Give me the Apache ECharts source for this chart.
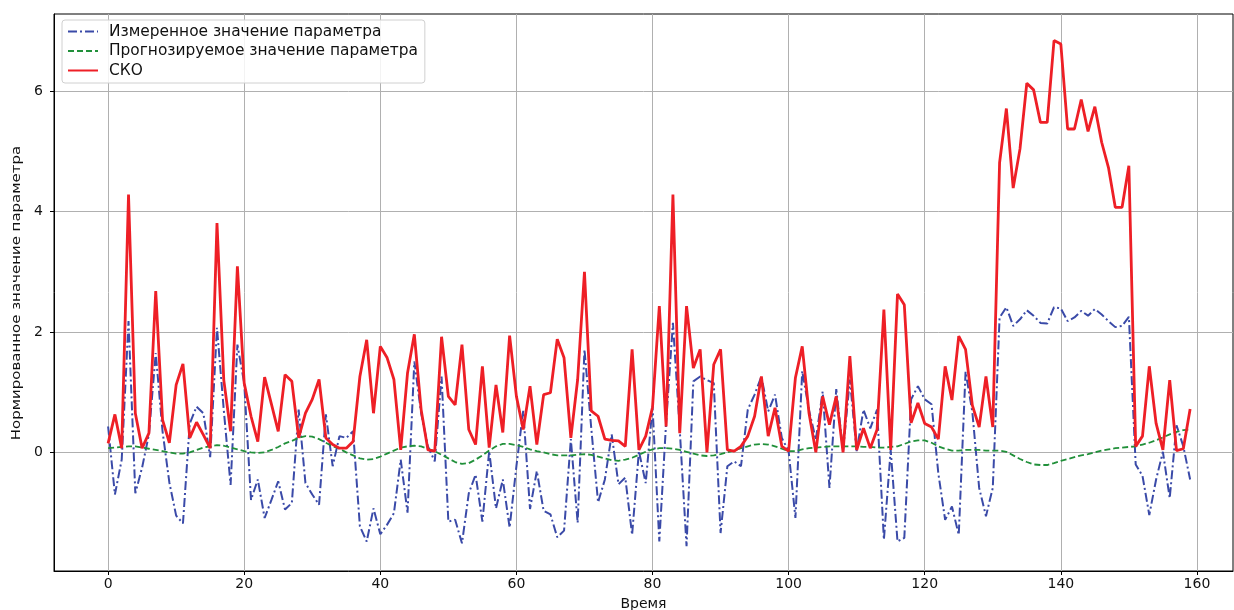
<!DOCTYPE html>
<html>
<head>
<meta charset="utf-8">
<script src="https://cdn.jsdelivr.net/npm/echarts@6/dist/echarts.min.js"></script>
<style>
html,body{margin:0;padding:0;background:#fff;}
#chart{width:1234px;height:610px;}
</style>
</head>
<body>
<div id="chart"></div>
<script>
const measured = [
 0.43,-0.70,-0.12,2.18,-0.68,-0.25,0.30,1.65,0.35,-0.50,
 -1.05,-1.18,0.48,0.76,0.65,-0.08,2.07,0.70,-0.54,1.79,
 1.15,-0.79,-0.45,-1.09,-0.79,-0.48,-0.95,-0.84,0.71,-0.51,
 -0.70,-0.87,0.63,-0.23,0.27,0.24,0.35,-1.23,-1.48,-0.93,
 -1.36,-1.20,-1.01,-0.12,-1.00,1.51,0.65,0.10,-0.15,1.26,
 -1.15,-1.12,-1.51,-0.68,-0.37,-1.15,0.02,-0.93,-0.45,-1.25,
 -0.23,0.69,-0.94,-0.31,-0.97,-1.03,-1.41,-1.30,0.22,-1.17,
 1.71,0.40,-0.83,-0.45,0.30,-0.53,-0.42,-1.37,0.02,-0.51,
 0.76,-1.48,0.50,2.15,0.38,-1.56,1.18,1.26,1.20,1.15,
 -1.34,-0.23,-0.15,-0.23,0.71,0.96,1.26,0.68,0.96,0.24,
 0.02,-1.09,1.35,0.70,0.21,1.01,-0.59,1.05,0.02,1.21,
 0.02,0.71,0.40,0.71,-1.45,0.04,-1.48,-1.42,0.88,1.10,
 0.88,0.80,-0.35,-1.12,-0.90,-1.37,1.34,0.67,-0.59,-1.06,
 -0.59,2.24,2.41,2.10,2.21,2.36,2.27,2.15,2.14,2.41,
 2.39,2.18,2.24,2.35,2.27,2.38,2.29,2.18,2.08,2.10,
 2.25,-0.20,-0.39,-1.04,-0.45,0.01,-0.76,0.45,0.10,-0.45
];
const predicted = [
 0.07,0.08,0.09,0.10,0.10,0.08,0.06,0.04,0.02,0.00,
 -0.02,-0.02,0.00,0.04,0.08,0.10,0.12,0.11,0.08,0.05,
 0.02,0.00,-0.01,0.00,0.04,0.09,0.15,0.19,0.24,0.27,
 0.26,0.22,0.16,0.10,0.06,0.00,-0.05,-0.10,-0.12,-0.11,
 -0.07,-0.02,0.03,0.08,0.10,0.11,0.10,0.06,0.02,-0.04,
 -0.10,-0.16,-0.19,-0.18,-0.12,-0.05,0.03,0.10,0.14,0.14,
 0.12,0.09,0.05,0.02,0.00,-0.03,-0.05,-0.05,-0.05,-0.04,
 -0.03,-0.04,-0.07,-0.10,-0.13,-0.14,-0.12,-0.09,-0.04,0.01,
 0.05,0.07,0.07,0.06,0.04,0.01,-0.02,-0.05,-0.06,-0.05,
 -0.03,0.00,0.03,0.07,0.10,0.13,0.14,0.13,0.10,0.06,
 0.02,0.02,0.05,0.07,0.08,0.09,0.10,0.10,0.10,0.10,
 0.10,0.09,0.09,0.08,0.08,0.09,0.10,0.14,0.18,0.20,
 0.20,0.16,0.10,0.06,0.03,0.03,0.04,0.04,0.04,0.03,
 0.03,0.03,0.01,-0.05,-0.11,-0.16,-0.20,-0.21,-0.21,-0.18,
 -0.14,-0.11,-0.08,-0.05,-0.03,0.00,0.03,0.05,0.07,0.08,
 0.09,0.10,0.13,0.16,0.20,0.25,0.30,0.34,0.37,0.38
];
const sko = [
 0.15,0.63,0.07,4.28,0.65,0.07,0.32,2.68,0.54,0.16,
 1.12,1.47,0.24,0.50,0.29,0.07,3.81,1.20,0.35,3.09,
 1.15,0.60,0.18,1.25,0.80,0.35,1.29,1.18,0.24,0.65,
 0.88,1.21,0.24,0.13,0.07,0.07,0.18,1.26,1.87,0.65,
 1.76,1.57,1.21,0.04,1.32,1.96,0.71,0.04,0.02,1.92,
 0.93,0.79,1.79,0.38,0.13,1.43,0.08,1.12,0.33,1.94,
 0.93,0.38,1.10,0.13,0.96,0.99,1.88,1.57,0.24,1.21,
 3.00,0.69,0.60,0.22,0.20,0.19,0.10,1.71,0.04,0.27,
 0.75,2.43,0.43,4.28,0.32,2.43,1.40,1.71,0.00,1.46,
 1.71,0.04,0.02,0.10,0.27,0.60,1.26,0.27,0.74,0.10,
 0.02,1.24,1.76,0.65,0.00,0.93,0.46,0.93,0.00,1.60,
 0.04,0.40,0.07,0.38,2.37,0.04,2.63,2.45,0.49,0.82,
 0.48,0.42,0.22,1.43,0.87,1.93,1.71,0.78,0.42,1.26,
 0.42,4.81,5.71,4.39,5.04,6.13,6.02,5.48,5.48,6.84,
 6.78,5.37,5.37,5.86,5.33,5.74,5.15,4.73,4.07,4.07,
 4.76,0.10,0.27,1.43,0.48,0.04,1.20,0.03,0.06,0.72
];
const xTicks = [0, 20, 40, 60, 80, 100, 120, 140, 160];
const yTicks = [0, 2, 4, 6];
const names = ['Измеренное значение параметра', 'Прогнозируемое значение параметра', 'СКО'];
const xTitle = 'Время';
const yTitle = 'Нормированное значение параметра';

const pairs = arr => arr.map((v, i) => [i, v]);
const font = 'DejaVu Sans, sans-serif';

const chart = echarts.init(document.getElementById('chart'), null, {renderer: 'canvas'});
chart.setOption({
  animation: false,
  backgroundColor: '#fff',
  grid: {left: 54, right: 1, top: 14, bottom: 39, outerBoundsMode: 'none', containLabel: false,
         show: true, borderColor: '#000', borderWidth: 1, backgroundColor: 'transparent'},
  legend: {
    left: 62, top: 20, orient: 'vertical',
    itemWidth: 30, itemHeight: 14, itemGap: 4.5,
    padding: [4, 7, 5, 5],
    borderColor: '#d0d0d0', borderWidth: 1, borderRadius: 3,
    backgroundColor: 'rgba(255,255,255,0.85)',
    itemStyle: {color: 'transparent', borderWidth: 0, opacity: 0},
    textStyle: {fontFamily: font, fontSize: 15.4, lineHeight: 15, color: '#111', padding: [0, 0, 0, 6]},
    data: names
  },
  graphic: [{
    type: 'text',
    x: 17, y: 293,
    rotation: Math.PI / 2, scaleX: 1.28, scaleY: 1,
    style: {text: yTitle, fontFamily: 'DejaVu Sans Condensed, DejaVu Sans, sans-serif', fontSize: 13,
            fill: '#111', align: 'center', verticalAlign: 'middle'}
  }],
  xAxis: {
    type: 'value', min: -7.95, max: 165.3,
    name: xTitle, nameLocation: 'middle', nameGap: 26,
    nameTextStyle: {fontFamily: font, fontSize: 14, color: '#111'},
    axisLine: {show: true, onZero: false, lineStyle: {color: '#000', width: 1}},
    axisTick: {show: true, length: 4, customValues: xTicks, lineStyle: {color: '#000'}},
    axisLabel: {customValues: xTicks, fontFamily: font, fontSize: 14, color: '#111', margin: 6},
    splitLine: {show: true, lineStyle: {color: '#b0b0b0', width: 1}}
  },
  yAxis: {
    type: 'value', min: -1.97, max: 7.28,
    axisLine: {show: true, onZero: false, lineStyle: {color: '#000', width: 1}},
    axisTick: {show: true, length: 4, customValues: yTicks, lineStyle: {color: '#000'}},
    axisLabel: {customValues: yTicks, fontFamily: font, fontSize: 14, color: '#111', margin: 11},
    splitLine: {show: true, lineStyle: {color: '#b0b0b0', width: 1}}
  },
  series: [
    {name: names[0], type: 'line', data: pairs(measured), symbol: 'none', showSymbol: false,
     color: '#3a4aa8', lineStyle: {color: '#3a4aa8', width: 2, type: [9, 3, 2, 3]}},
    {name: names[1], type: 'line', data: pairs(predicted), symbol: 'none', showSymbol: false,
     color: '#21903a', lineStyle: {color: '#21903a', width: 1.8, type: [6, 3]}},
    {name: names[2], type: 'line', data: pairs(sko), symbol: 'none', showSymbol: false,
     color: '#ee1f26', lineStyle: {color: '#ee1f26', width: 2.8}}
  ]
});
</script>
</body>
</html>
